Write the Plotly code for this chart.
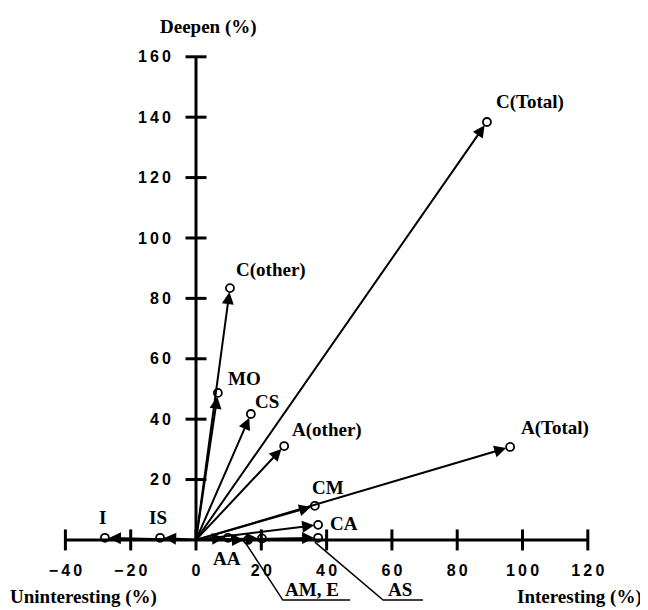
import plotly.graph_objects as go

# ---- data ----
names = ["C(Total)", "A(Total)", "C(other)", "MO", "CS", "A(other)", "CM", "CA",
         "AS", "E", "AM", "AA", "IS", "I"]
interesting = [89.1, 96.2, 10.4, 6.7, 16.8, 27.0, 36.4, 37.4, 37.4, 20.2, 15.9, 9.8, -11.0, -27.9]
deepen = [138.4, 30.8, 83.4, 48.7, 41.7, 31.1, 11.3, 5.0, 0.7, 0.5, 0.0, 0.7, 0.7, 0.7]

x_ticks = [-40, -20, 0, 20, 40, 60, 80, 100, 120]
y_ticks = [20, 40, 60, 80, 100, 120, 140, 160]

# ---- label placement (styling) ----
label_pos = {
    "C(Total)": (102.3, 145.0), "A(Total)": (110.0, 37.0), "C(other)": (23.0, 89.4),
    "MO": (14.7, 53.6), "CS": (21.7, 45.7), "A(other)": (40.1, 36.4),
    "CM": (40.4, 17.5), "CA": (45.3, 5.6), "I": (-28.5, 7.3), "IS": (-11.6, 7.3),
    "AA": (9.5, -6.0),
}
leader_labels = [
    ("AM, E", (35.5, -16.4), [(15.0, -0.7), (26.6, -19.9), (47.2, -19.9)]),
    ("AS", (62.5, -16.4), [(36.4, -0.7), (57.3, -19.9), (69.5, -19.9)]),
]

# page has an 8px body margin, so the figure is 640x602 and ranges account for it
XR = [-57.58, 138.43]
YR = [-23.2, 176.16]

def tick_text(v):
    s = str(abs(v))
    t = "\u2009".join(s)
    if v < 0:
        t = "\u2212\u2009" + t
    return t

fig = go.Figure()

# axis lines
fig.add_trace(go.Scatter(x=[x_ticks[0], x_ticks[-1]], y=[0, 0], mode="lines",
                         line=dict(color="black", width=3), hoverinfo="skip", showlegend=False))
fig.add_trace(go.Scatter(x=[0, 0], y=[0, y_ticks[-1]], mode="lines",
                         line=dict(color="black", width=3), hoverinfo="skip", showlegend=False))
# crossing tick marks
fig.add_trace(go.Scatter(x=x_ticks, y=[0] * len(x_ticks), mode="markers",
                         marker=dict(symbol="line-ns", size=15, line=dict(color="black", width=3)),
                         hoverinfo="skip", showlegend=False))
fig.add_trace(go.Scatter(x=[0] * len(y_ticks), y=y_ticks, mode="markers",
                         marker=dict(symbol="line-ew", size=15, line=dict(color="black", width=3)),
                         hoverinfo="skip", showlegend=False))

annotations = []
# arrows from origin
for n, xv, yv in zip(names, interesting, deepen):
    annotations.append(dict(x=xv, y=yv, ax=0, ay=0, xref="x", yref="y", axref="x", ayref="y",
                            text="", showarrow=True, arrowhead=2, arrowsize=1.2, arrowwidth=2,
                            arrowcolor="black", standoff=4))

# points
fig.add_trace(go.Scatter(x=interesting, y=deepen, mode="markers", text=names,
                         marker=dict(symbol="circle-open", size=8, color="black",
                                     line=dict(color="black", width=1.8)),
                         showlegend=False))

lab_font = dict(family="Liberation Serif", size=19, color="black", weight="bold")
for n, (lx, ly) in label_pos.items():
    annotations.append(dict(x=lx, y=ly, xref="x", yref="y", text=n, showarrow=False,
                            font=lab_font, xanchor="center", yanchor="middle"))

for txt, (lx, ly), path in leader_labels:
    fig.add_trace(go.Scatter(x=[p[0] for p in path], y=[p[1] for p in path], mode="lines",
                             line=dict(color="black", width=1.5), hoverinfo="skip", showlegend=False))
    annotations.append(dict(x=lx, y=ly, xref="x", yref="y", text=txt, showarrow=False,
                            font=lab_font, xanchor="center", yanchor="middle"))

# axis titles
annotations.append(dict(x=3.7, y=169.9, xref="x", yref="y", text="Deepen (%)", showarrow=False,
                        font=lab_font, xanchor="center", yanchor="middle"))
annotations.append(dict(x=-57.5, y=-19.0, xref="x", yref="y", text="Uninteresting (%)", showarrow=False,
                        font=lab_font, xanchor="left", yanchor="middle"))
annotations.append(dict(x=117.6, y=-19.0, xref="x", yref="y", text="Interesting (%)", showarrow=False,
                        font=lab_font, xanchor="center", yanchor="middle"))

tick_font = dict(family="Liberation Sans", size=16, color="black", weight="bold")

fig.update_layout(
    width=640, height=602,
    margin=dict(l=0, r=0, t=0, b=0),
    paper_bgcolor="white", plot_bgcolor="white",
    xaxis=dict(range=XR, domain=[0, 1], anchor="free",
               position=(0 - YR[0]) / (YR[1] - YR[0]),
               showgrid=False, zeroline=False, showline=False,
               tickmode="array", tickvals=x_ticks, ticktext=[tick_text(v) for v in x_ticks],
               ticks="", ticklabelstandoff=19, tickfont=tick_font, automargin=False),
    yaxis=dict(range=YR, domain=[0, 1], anchor="free",
               position=(0 - XR[0]) / (XR[1] - XR[0]),
               showgrid=False, zeroline=False, showline=False,
               tickmode="array", tickvals=y_ticks, ticktext=[tick_text(v) for v in y_ticks],
               ticks="", ticklabelstandoff=25, tickfont=tick_font, automargin=False),
    annotations=annotations,
    showlegend=False,
)

fig.write_html("out.html")
